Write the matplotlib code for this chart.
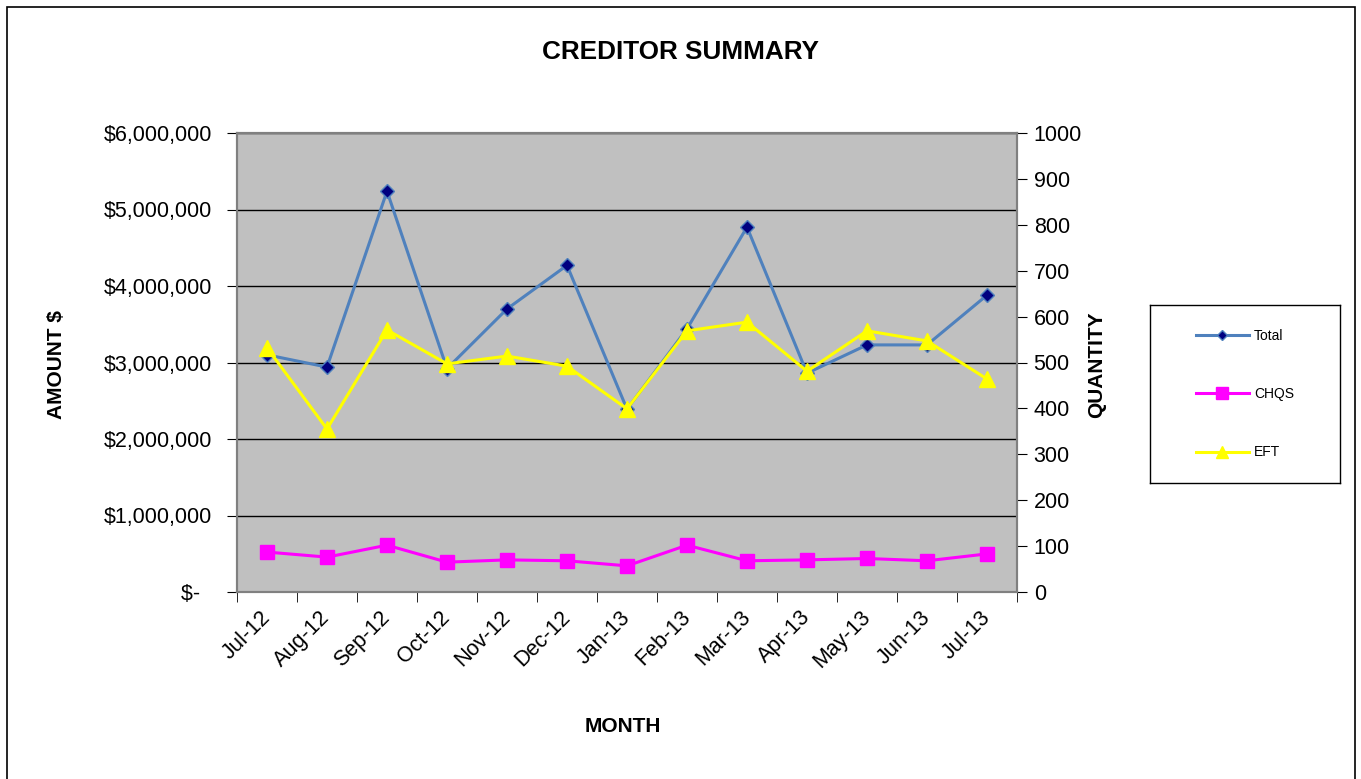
import matplotlib
matplotlib.use("Agg")
import numpy as np
from matplotlib import pyplot as plt
from matplotlib.lines import Line2D
from matplotlib.patches import Rectangle

plt.rcParams['font.family'] = ['Liberation Sans', 'DejaVu Sans']

# data
months = ['Jul-12', 'Aug-12', 'Sep-12', 'Oct-12', 'Nov-12', 'Dec-12', 'Jan-13',
          'Feb-13', 'Mar-13', 'Apr-13', 'May-13', 'Jun-13', 'Jul-13']
total = [3100000, 2940000, 5240000, 2920000, 3700000, 4270000, 2390000,
         3440000, 4770000, 2860000, 3230000, 3230000, 3880000]
chqs = [87, 76, 102, 65, 70, 68, 57, 102, 68, 70, 73, 68, 83]
eft = [532, 355, 571, 497, 514, 492, 399, 569, 588, 481, 569, 547, 464]

amount_ticks = [0, 1000000, 2000000, 3000000, 4000000, 5000000, 6000000]
amount_labels = ['$-  ', '$1,000,000', '$2,000,000', '$3,000,000',
                 '$4,000,000', '$5,000,000', '$6,000,000']
qty_ticks = list(range(0, 1001, 100))

W, H = 1361, 779
fig = plt.figure(figsize=(W / 100, H / 100), dpi=100)

# outer frame of the chart
fig.patches.append(Rectangle((7 / W, -0.02), (1355 - 7) / W, 1.02 - 7 / H,
                             transform=fig.transFigure, fill=False,
                             edgecolor='black', lw=1.2))

ax = fig.add_axes([237 / W, 1 - 592 / H, (1017 - 237) / W, (592 - 133) / H])
ax.set_facecolor('#C0C0C0')
x = np.arange(len(months))

ax.plot(x, total, color='#4F81BD', lw=2.2, marker='D', markersize=7,
        markerfacecolor='#000080', markeredgecolor='#4F81BD', markeredgewidth=1,
        zorder=3)
ax.set_ylim(0, 6000000)
ax.set_xlim(-0.5, len(months) - 0.5)
ax.set_yticks(amount_ticks)
ax.set_yticklabels(amount_labels)
ax.yaxis.grid(True, color='black', lw=1)
ax.set_axisbelow(True)

ax.set_xticks(x)
ax.set_xticks(np.arange(-0.5, len(months)), minor=True)
ax.tick_params(axis='x', which='major', length=0, pad=16)
ax.tick_params(axis='x', which='minor', length=7, direction='out', color='black')
ax.set_xticklabels(months, rotation=45, ha='right', va='center', rotation_mode='anchor')
ax.tick_params(axis='y', length=7, direction='out', color='black', pad=11)
ax.tick_params(labelsize=15.5)
for s in ax.spines.values():
    s.set_color('#808080')
    s.set_linewidth(1.5)

ax2 = ax.twinx()
ax2.plot(x, chqs, color='#FF00FF', lw=2.2, marker='s', markersize=10,
         markerfacecolor='#FF00FF', markeredgecolor='#FF00FF', zorder=3)
ax2.plot(x, eft, color='#FFFF00', lw=2.2, marker='^', markersize=11,
         markerfacecolor='#FFFF00', markeredgecolor='#FFFF00', zorder=4)
ax2.set_ylim(0, 1000)
ax2.set_yticks(qty_ticks)
ax2.tick_params(axis='y', length=7, direction='out', color='black',
                labelsize=15.5, pad=5)
for s in ax2.spines.values():
    s.set_color('#808080')
    s.set_linewidth(1.5)

fig.text(680 / W, 1 - 52 / H, 'CREDITOR SUMMARY', ha='center', va='center',
         fontsize=18.8, fontweight='bold')
fig.text(57 / W, 1 - 365 / H, 'AMOUNT $', ha='center', va='center',
         rotation=90, fontsize=15, fontweight='bold')
fig.text(1097 / W, 1 - 365 / H, 'QUANTITY', ha='center', va='center',
         rotation=90, fontsize=15, fontweight='bold')
fig.text(623 / W, 1 - 727 / H, 'MONTH', ha='center', va='center',
         fontsize=15, fontweight='bold')

# legend box
lax = fig.add_axes([1150 / W, 1 - 483 / H, 190 / W, 178 / H])
lax.set_xticks([])
lax.set_yticks([])
for s in lax.spines.values():
    s.set_color('black')
    s.set_linewidth(1)
handles = [
    Line2D([], [], color='#4F81BD', lw=2.2, marker='D', markersize=5,
           markerfacecolor='#000080', markeredgecolor='#4F81BD'),
    Line2D([], [], color='#FF00FF', lw=2.2, marker='s', markersize=8,
           markerfacecolor='#FF00FF', markeredgecolor='#FF00FF'),
    Line2D([], [], color='#FFFF00', lw=2.2, marker='^', markersize=8,
           markerfacecolor='#FFFF00', markeredgecolor='#FFFF00'),
]
lax.legend(handles, ['Total', 'CHQS', 'EFT'], loc='center', frameon=False,
           fontsize=10, labelspacing=3.2, handlelength=3.8, handletextpad=0.4)

fig.savefig('out.png', dpi=100)
